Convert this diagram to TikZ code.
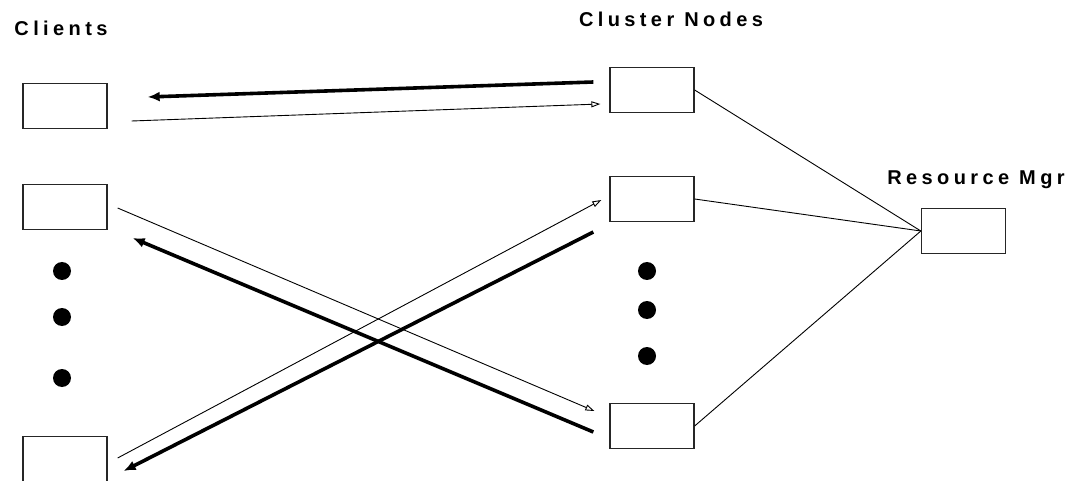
\documentclass[tikz,border=0pt]{standalone}
\usepackage{fontspec}
\setmainfont{Liberation Sans}
\newfontfamily\labelfont[LetterSpace=22]{Liberation Sans}
\usetikzlibrary{arrows.meta}
\begin{document}
\begin{tikzpicture}[x=1pt, y=-1pt,
        box/.style = {draw = black!85, line width = 1.3pt, minimum width = 84pt, minimum height = 45pt, inner sep = 0pt},
        heading/.style = {font = \labelfont\bfseries\fontsize{20}{22}\selectfont, anchor = base},
        dot/.style = {fill = black},
        fat/.style = {line width = 3.6pt, -{Latex[length = 12pt, width = 10pt]}},
        thin/.style = {line width = 0.9pt, -{Triangle[open, length = 9pt, width = 6pt]}},
        link/.style = {line width = 0.9pt}]
            \path[use as bounding box, clip] (0,0) rectangle (1074,481);
            \node[heading] (clients) at (61,36) {Clients};
            \node[heading] (cluster) at (671,27) {Cluster Nodes};
            \node[heading] (mgr) at (976,185) {Resource Mgr};
            \node[box] (c1) at (65,106) {};
            \node[box] (c2) at (65,207) {};
            \node[box] (c4) at (65,459) {};
            \node[box] (n1) at (652,90) {};
            \node[box] (n2) at (652,199) {};
            \node[box] (n3) at (652,426) {};
            \node[box] (rm) at (963.5,231) {};
            \foreach \y in {271,317,378} \fill[dot] (62,\y) circle (9);
            \foreach \y in {271,310,356} \fill[dot] (647,\y) circle (9);
            \draw[link] (n1.east) -- (rm.west);
            \draw[link] (n2.east) -- (rm.west);
            \draw[link] (n3.east) -- (rm.west);
            \draw[fat] ([shift = {(-16,-8)}]n1.west) -- ([shift = {(40,-9)}]c1.east);
            \draw[thin] ([shift = {(24,15)}]c1.east) -- ([shift = {(-9,14)}]n1.west);
            \draw[thin] ([shift = {(10,1)}]c2.east) -- ([shift = {(-15,-15)}]n3.west);
            \draw[fat] ([shift = {(-16,6)}]n3.west) -- ([shift = {(25,31)}]c2.east);
            \draw[thin] ([shift = {(10,-1)}]c4.east) -- ([shift = {(-8,1)}]n2.west);
            \draw[fat] ([shift = {(-16,33)}]n2.west) -- ([shift = {(16,12)}]c4.east);
        \end{tikzpicture}
\end{document}
